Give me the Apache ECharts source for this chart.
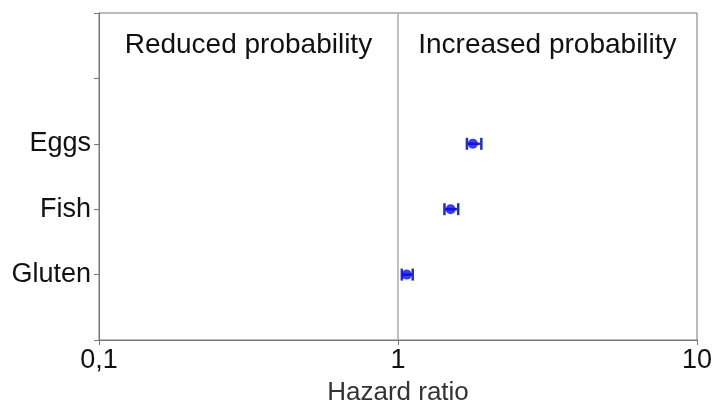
<!DOCTYPE html>
<html>
<head>
<meta charset="utf-8">
<script src="https://cdn.jsdelivr.net/npm/echarts@6/dist/echarts.min.js"></script>
<style>html,body{margin:0;padding:0;background:#fff;}#c{width:713px;height:405px;}</style>
</head>
<body>
<div id="c"></div>
<script>
var categories = ['Gluten', 'Fish', 'Eggs'];
var positions = [1, 2, 3];
var hazard = [1.07, 1.50, 1.78];
var lower = [1.03, 1.43, 1.70];
var upper = [1.12, 1.59, 1.90];
var xTicks = [0.1, 1, 10];
var regionLabels = ['Reduced probability', 'Increased probability'];
var regionX = [0.316, 3.16];
var regionY = [4.5, 4.5];

var FONT = '"Liberation Sans", Arial, sans-serif';
var chart = echarts.init(document.getElementById('c'), null, {renderer: 'canvas'});

var errData = categories.map(function (c, i) { return [lower[i], upper[i], positions[i]]; });
var ptData = categories.map(function (c, i) { return [hazard[i], positions[i]]; });
var annData = regionLabels.map(function (t, i) { return [regionX[i], regionY[i], i]; });

chart.setOption({
  animation: false,
  grid: {left: 99, right: 16, top: 13, bottom: 65, show: true, borderColor: '#777', borderWidth: 1,
    backgroundColor: 'transparent', containLabel: false, outerBoundsMode: 'none'},
  xAxis: {
    type: 'log', logBase: 10, min: 0.1, max: 10,
    name: 'Hazard ratio', nameLocation: 'middle', nameGap: 40,
    nameTextStyle: {fontFamily: FONT, fontSize: 26, color: '#333'},
    axisLine: {lineStyle: {color: '#777', width: 1}},
    axisTick: {show: true, length: 5, lineStyle: {color: '#777'}},
    minorTick: {show: false},
    splitLine: {show: false},
    axisLabel: {fontFamily: FONT, fontSize: 27, color: '#111', margin: 7,
      formatter: function (v) { return String(v).replace('.', ','); }}
  },
  yAxis: {
    type: 'value', min: 0, max: 5, interval: 1,
    axisLine: {lineStyle: {color: '#777', width: 1}},
    axisTick: {show: true, length: 5, lineStyle: {color: '#777'}},
    splitLine: {show: false},
    axisLabel: {fontFamily: FONT, fontSize: 27, color: '#111', margin: 8,
      formatter: function (v) { var i = positions.indexOf(v); return i >= 0 ? categories[i] : ''; }}
  },
  series: [
    {
      type: 'line', data: [], silent: true,
      markLine: {symbol: 'none', silent: true, label: {show: false},
        lineStyle: {color: '#aaa', width: 1.5, type: 'solid'},
        data: [{xAxis: 1}]}
    },
    {
      type: 'custom', data: errData, z: 3,
      renderItem: function (params, api) {
        var a = api.coord([api.value(0), api.value(2)]);
        var b = api.coord([api.value(1), api.value(2)]);
        var h = 6;
        var style = {stroke: '#2233aa', lineWidth: 2.5};
        return {type: 'group', children: [
          {type: 'line', shape: {x1: a[0], y1: a[1], x2: b[0], y2: b[1]}, style: style},
          {type: 'line', shape: {x1: a[0], y1: a[1] - h, x2: a[0], y2: a[1] + h}, style: style},
          {type: 'line', shape: {x1: b[0], y1: b[1] - h, x2: b[0], y2: b[1] + h}, style: style}
        ]};
      }
    },
    {
      type: 'scatter', data: ptData, symbol: 'circle', symbolSize: 10, z: 4,
      itemStyle: {color: '#0a0aee'}
    },
    {
      type: 'custom', data: annData, silent: true, z: 5,
      renderItem: function (params, api) {
        var p = api.coord([api.value(0), api.value(1)]);
        return {type: 'text', x: p[0], y: p[1],
          style: {text: regionLabels[api.value(2)], fill: '#111', font: '28px ' + FONT,
            textAlign: 'center', textVerticalAlign: 'middle'}};
      }
    }
  ]
});
</script>
</body>
</html>
